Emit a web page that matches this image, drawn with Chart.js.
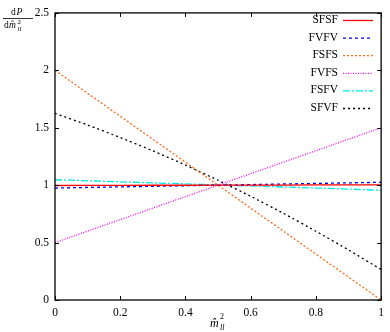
<!DOCTYPE html>
<html>
<head>
<meta charset="utf-8">
<script src="https://cdn.jsdelivr.net/npm/chart.js@4/dist/chart.umd.min.js"></script>
<style>
  html, body { margin: 0; padding: 0; background: #fff; }
  #wrap { width: 390px; height: 332px; }
</style>
</head>
<body>
<div id="wrap"><canvas id="c" width="390" height="332"></canvas></div>
<script>
// 數據
const xVals = [0, 0.1, 0.2, 0.3, 0.4, 0.5, 0.6, 0.7, 0.8, 0.9, 1];
const seriesNames = ['SFSF', 'FVFV', 'FSFS', 'FVFS', 'FSFV', 'SFVF'];
const sfsf = [0.997, 0.998, 0.998, 0.999, 0.999, 1.0, 1.0, 1.001, 1.002, 1.002, 1.003];
const fvfv = [0.975, 0.98, 0.985, 0.99, 0.995, 1.0, 1.005, 1.01, 1.015, 1.02, 1.025];
const fsfs = [2.0, 1.8, 1.6, 1.4, 1.2, 1.0, 0.8, 0.6, 0.4, 0.2, 0.0];
const fvfs = [0.5, 0.6, 0.7, 0.8, 0.9, 1.0, 1.1, 1.2, 1.3, 1.4, 1.5];
const fsfv = [1.047, 1.038, 1.029, 1.02, 1.011, 1.002, 0.993, 0.984, 0.975, 0.966, 0.955];
const sfvf = [1.625, 1.524, 1.415, 1.299, 1.175, 1.043, 0.903, 0.755, 0.599, 0.436, 0.265];
const xTicks = [0, 0.2, 0.4, 0.6, 0.8, 1];
const yTicks = [0, 0.5, 1, 1.5, 2, 2.5];

const serif = '"Liberation Serif", "DejaVu Serif", serif';

function pts(arr) {
    return xVals.map((x, i) => ({ x: x, y: arr[i] }));
}

const styles = [
    { color: '#ff0000', dash: [] },
    { color: '#0000ff', dash: [3, 3] },
    { color: '#ff6a1a', dash: [2, 2] },
    { color: '#ff00ff', dash: [1, 1.5] },
    { color: '#00e5e5', dash: [7, 2, 2, 2] },
    { color: '#000000', dash: [2, 3] }
];
const allData = [sfsf, fvfv, fsfs, fvfs, fsfv, sfvf];

const datasets = allData.map((arr, i) => ({
    label: seriesNames[i],
    data: pts(arr),
    borderColor: styles[i].color,
    borderDash: styles[i].dash,
    borderWidth: 1.3,
    pointRadius: 0,
    fill: false,
    tension: i === 5 ? 0.2 : 0
}));

// 邊框、內側刻度、圖例與座標軸標題
const decor = {
    id: 'decor',
    afterDraw(chart) {
        const ctx = chart.ctx;
        const a = chart.chartArea;
        const xs = chart.scales.x, ys = chart.scales.y;
        ctx.save();
        ctx.strokeStyle = '#000';
        ctx.lineWidth = 1.3;
        ctx.setLineDash([]);
        ctx.strokeRect(a.left, a.top, a.right - a.left, a.bottom - a.top);
        ctx.lineWidth = 1;
        ctx.beginPath();
        xTicks.forEach(v => {
            const p = Math.round(xs.getPixelForValue(v)) + 0.5;
            ctx.moveTo(p, a.bottom); ctx.lineTo(p, a.bottom - 4);
            ctx.moveTo(p, a.top); ctx.lineTo(p, a.top + 4);
        });
        yTicks.forEach(v => {
            const p = Math.round(ys.getPixelForValue(v)) + 0.5;
            ctx.moveTo(a.left, p); ctx.lineTo(a.left + 4, p);
            ctx.moveTo(a.right, p); ctx.lineTo(a.right - 4, p);
        });
        ctx.stroke();

        // 圖例
        ctx.font = '11.5px ' + serif;
        ctx.textAlign = 'right';
        ctx.textBaseline = 'middle';
        chart.data.datasets.forEach((ds, i) => {
            const y = 20 + i * 17.6;
            ctx.fillStyle = '#000';
            ctx.fillText(ds.label, 338, y);
            ctx.strokeStyle = ds.borderColor;
            ctx.lineWidth = 1.3;
            ctx.setLineDash(ds.borderDash);
            ctx.beginPath();
            ctx.moveTo(343, y + 0.5);
            ctx.lineTo(373, y + 0.5);
            ctx.stroke();
        });
        ctx.setLineDash([]);

        // x 軸標題
        ctx.fillStyle = '#000';
        ctx.textAlign = 'left';
        ctx.textBaseline = 'alphabetic';
        ctx.font = 'italic 12px ' + serif;
        ctx.fillText('m\u0302', 210, 327);
        ctx.font = '8px ' + serif;
        ctx.fillText('2', 220, 319);
        ctx.font = 'italic 8px ' + serif;
        ctx.fillText('ll', 220, 330);

        // y 軸標題 (分數)
        ctx.textAlign = 'left';
        ctx.font = '9.5px ' + serif;
        ctx.fillText('d', 11, 15);
        ctx.font = 'italic 9.5px ' + serif;
        ctx.fillText('P', 16.5, 15);
        ctx.beginPath();
        ctx.lineWidth = 0.8;
        ctx.moveTo(3, 18.5); ctx.lineTo(33, 18.5);
        ctx.stroke();
        ctx.font = '9.5px ' + serif;
        ctx.fillText('d', 4, 28);
        ctx.font = 'italic 9.5px ' + serif;
        ctx.fillText('m\u0302', 9, 28);
        ctx.font = '7px ' + serif;
        ctx.fillText('2', 17.5, 24);
        ctx.font = 'italic 7px ' + serif;
        ctx.fillText('ll', 17.5, 31);
        ctx.restore();
    }
};

new Chart(document.getElementById('c').getContext('2d'), {
    type: 'line',
    data: { datasets: datasets },
    options: {
        responsive: false,
        animation: false,
        layout: { padding: { top: 5, right: 7, left: 0, bottom: 0 } },
        plugins: { legend: { display: false }, tooltip: { enabled: false } },
        scales: {
            x: {
                type: 'linear',
                min: 0,
                max: 1,
                afterFit: s => { s.height = 32; },
                afterBuildTicks: s => { s.ticks = xTicks.map(v => ({ value: v })); },
                grid: { display: false, drawTicks: false },
                border: { display: false },
                ticks: {
                    padding: 6,
                    color: '#000',
                    font: { family: serif, size: 11.5 },
                    callback: v => String(v)
                }
            },
            y: {
                type: 'linear',
                min: 0,
                max: 2.5,
                afterFit: s => { s.width = 55; },
                afterBuildTicks: s => { s.ticks = yTicks.map(v => ({ value: v })); },
                grid: { display: false, drawTicks: false },
                border: { display: false },
                ticks: {
                    padding: 6,
                    color: '#000',
                    font: { family: serif, size: 11.5 },
                    callback: v => String(v)
                }
            }
        }
    },
    plugins: [decor]
});
</script>
</body>
</html>
